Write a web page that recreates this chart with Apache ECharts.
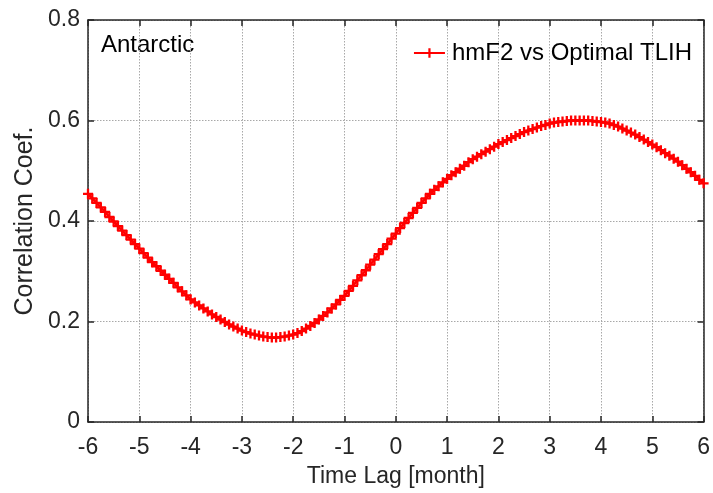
<!DOCTYPE html>
<html>
<head>
<meta charset="utf-8">
<script src="https://cdn.jsdelivr.net/npm/echarts@6/dist/echarts.min.js"></script>
<style>
html,body{margin:0;padding:0;background:#fff;}
#chart{width:713px;height:493px;}
</style>
</head>
<body>
<div id="chart"></div>
<script>
// Time lag grid (months): from -6 to 6 in steps of 1/12 month
const lagStart = -6;
const lagStep = 1 / 12;
// Correlation coefficient, hmF2 vs Optimal TLIH (Antarctic)
const corrValues = [
  0.454, 0.445, 0.436, 0.427, 0.418, 0.408, 0.399, 0.390, 0.381, 0.372, 0.363, 0.354, 0.345,
  0.336, 0.327, 0.318, 0.310, 0.301, 0.293, 0.285, 0.277, 0.268, 0.260, 0.252, 0.244,
  0.238, 0.232, 0.226, 0.220, 0.214, 0.209, 0.204, 0.199, 0.194, 0.190, 0.186, 0.182,
  0.179, 0.176, 0.174, 0.172, 0.170, 0.169, 0.168, 0.168, 0.169, 0.170, 0.172, 0.174,
  0.177, 0.181, 0.186, 0.191, 0.197, 0.204, 0.211, 0.218, 0.226, 0.234, 0.243, 0.251,
  0.261, 0.271, 0.282, 0.292, 0.302, 0.313, 0.323, 0.334, 0.344, 0.354, 0.365, 0.375,
  0.386, 0.396, 0.406, 0.416, 0.426, 0.436, 0.445, 0.454, 0.462, 0.469, 0.477, 0.484,
  0.491, 0.497, 0.504, 0.510, 0.517, 0.523, 0.528, 0.533, 0.538, 0.543, 0.548, 0.553,
  0.557, 0.561, 0.565, 0.569, 0.573, 0.577, 0.580, 0.583, 0.586, 0.589, 0.591, 0.594,
  0.596, 0.597, 0.598, 0.599, 0.600, 0.600, 0.600, 0.600, 0.600, 0.599, 0.598, 0.597,
  0.596, 0.594, 0.591, 0.588, 0.584, 0.580, 0.576, 0.572, 0.567, 0.562, 0.557, 0.552,
  0.547, 0.541, 0.535, 0.530, 0.524, 0.518, 0.511, 0.504, 0.497, 0.490, 0.482, 0.475
];
const seriesName = 'hmF2 vs Optimal TLIH';
const regionLabel = 'Antarctic';
const xAxisTitle = 'Time Lag [month]';
const yAxisTitle = 'Correlation Coef.';
const xRange = [-6, 6];
const yRange = [0, 0.8];

const points = corrValues.map((v, i) => [lagStart + i * lagStep, v]);

const FONT = '"Liberation Sans", Arial, Helvetica, sans-serif';
const AX = '#262626';
const plusPath = 'path://M-1.15,-5L1.15,-5L1.15,-1.15L5,-1.15L5,1.15L1.15,1.15L1.15,5L-1.15,5L-1.15,1.15L-5,1.15L-5,-1.15L-1.15,-1.15Z';

const baseX = {
  type: 'value', min: xRange[0], max: xRange[1], interval: 1,
  axisLine: { show: true, onZero: false, lineStyle: { color: AX, width: 1.5 } },
  axisTick: { show: true, inside: true, length: 6, lineStyle: { color: AX, width: 1.5 } },
  splitLine: { show: false }
};
const baseY = {
  type: 'value', min: yRange[0], max: yRange[1], interval: 0.2,
  axisLine: { show: true, onZero: false, lineStyle: { color: AX, width: 1.5 } },
  axisTick: { show: true, inside: true, length: 6, lineStyle: { color: AX, width: 1.5 } },
  splitLine: { show: false }
};

const chart = echarts.init(document.getElementById('chart'), null, { renderer: 'canvas' });
chart.setOption({
  animation: false,
  backgroundColor: '#fff',
  textStyle: { fontFamily: FONT },
  grid: { left: 88, right: 6, top: 20, bottom: 69, containLabel: false },
  legend: {
    data: [seriesName],
    right: 16, top: 36,
    itemWidth: 31, itemHeight: 12, itemGap: 4,
    textStyle: { fontFamily: FONT, fontSize: 24, color: '#000', padding: [0, 0, 0, 2] }
  },
  graphic: [{
    type: 'text', left: 101, top: 33,
    style: { text: regionLabel, font: '24px ' + FONT, fill: '#000' }
  }],
  xAxis: [
    Object.assign({}, baseX, {
      position: 'bottom',
      name: xAxisTitle, nameLocation: 'middle', nameGap: 43,
      nameTextStyle: { fontFamily: FONT, fontSize: 23, color: AX },
      axisLabel: { show: true, margin: 14, fontSize: 23, color: AX, fontFamily: FONT },
      splitLine: { show: true, lineStyle: { color: '#a8a8a8', type: [1.5, 1.5], width: 1 } }
    }),
    Object.assign({}, baseX, { position: 'top', axisLabel: { show: false } })
  ],
  yAxis: [
    Object.assign({}, baseY, {
      position: 'left',
      name: yAxisTitle, nameLocation: 'middle', nameGap: 48,
      nameTextStyle: { fontFamily: FONT, fontSize: 25, color: AX },
      axisLabel: {
        show: true, margin: 8, fontSize: 23, color: AX, fontFamily: FONT,
        formatter: v => (v === 0 ? '0' : v.toFixed(1))
      },
      splitLine: { show: true, lineStyle: { color: '#a8a8a8', type: [1.5, 1.5], width: 1 } }
    }),
    Object.assign({}, baseY, { position: 'right', axisLabel: { show: false } })
  ],
  series: [{
    name: seriesName,
    type: 'line',
    xAxisIndex: 0, yAxisIndex: 0,
    data: points,
    symbol: plusPath,
    symbolSize: 10,
    showAllSymbol: true,
    lineStyle: { color: '#ff0000', width: 2.6 },
    itemStyle: { color: '#ff0000', borderWidth: 0 },
    z: 5
  }]
});
</script>
</body>
</html>
